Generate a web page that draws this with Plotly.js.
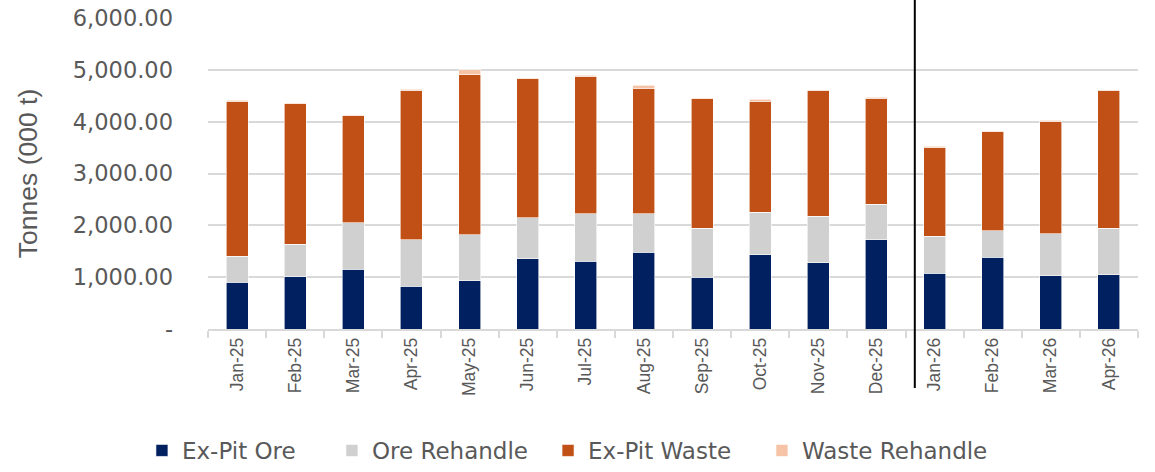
<!DOCTYPE html>
<html>
<head>
<meta charset="utf-8">
<script src="https://cdn.plot.ly/plotly-3.0.1.min.js"></script>
<style>html,body{margin:0;padding:0;background:#fff;}#chart{width:1155px;height:472px;}</style>
</head>
<body>
<div id="chart"></div>
<script>
const months = ["Jan-25","Feb-25","Mar-25","Apr-25","May-25","Jun-25","Jul-25","Aug-25","Sep-25","Oct-25","Nov-25","Dec-25","Jan-26","Feb-26","Mar-26","Apr-26"];
const exPitOre      = [905, 1007, 1155, 828, 930, 1360, 1309, 1483, 1001, 1437, 1283, 1720, 1078, 1386, 1026, 1051];
const oreRehandle   = [500, 630, 892, 892, 886, 789, 917, 743, 944, 816, 893, 687, 713, 507, 815, 894];
const exPitWaste    = [2990, 2708, 2066, 2882, 3087, 2677, 2652, 2421, 2496, 2143, 2426, 2041, 1714, 1912, 2170, 2657];
const wasteRehandle = [20, 20, 20, 20, 96, 20, 15, 51, 25, 39, 13, 19, 19, 19, 19, 13];
const yTickVals = [0, 1000, 2000, 3000, 4000, 5000, 6000];
const yTickText = ["-", "1,000.00", "2,000.00", "3,000.00", "4,000.00", "5,000.00", "6,000.00"];
const yTitle = 'Tonnes (000 t)';

const mk = (name, y, color, legendId) => ({
  type: 'bar', name: name, x: months, y: y, legend: legendId,
  marker: {color: color, line: {color: '#ffffff', width: 0.6}},
  hoverinfo: 'x+y+name'
});

const data = [
  mk('Ex-Pit Ore', exPitOre, '#002060', 'legend'),
  mk('Ore Rehandle', oreRehandle, '#D0D0D0', 'legend2'),
  mk('Ex-Pit Waste', exPitWaste, '#C05015', 'legend3'),
  mk('Waste Rehandle', wasteRehandle, '#F6C3A6', 'legend4')
];

const legendBase = (x) => ({
  orientation: 'h', xref: 'container', yref: 'container',
  x: x, xanchor: 'left', y: -0.015, yanchor: 'bottom',
  font: {size: 23, color: '#595959', family: 'DejaVu Sans, sans-serif'},
  itemwidth: 30, bgcolor: 'rgba(0,0,0,0)', borderwidth: 0
});

const layout = {
  width: 1155, height: 472,
  barmode: 'stack', bargap: 0.62,
  margin: {l: 208, r: 17, t: 18, b: 143},
  paper_bgcolor: '#fff', plot_bgcolor: '#fff',
  font: {family: 'Liberation Sans, Arial, sans-serif', color: '#595959'},
  showlegend: true,
  legend: legendBase(0.1229),
  legend2: legendBase(0.2874),
  legend3: legendBase(0.4745),
  legend4: legendBase(0.6597),
  xaxis: {
    type: 'category', tickangle: -90,
    tickfont: {size: 17.5, color: '#595959'},
    showline: true, linecolor: '#D9D9D9', linewidth: 1.5,
    ticks: 'outside', tickson: 'boundaries', ticklen: 7, tickcolor: '#D9D9D9', tickwidth: 1.5,
    showgrid: false, fixedrange: true
  },
  yaxis: {
    range: [0, 6000], tickvals: yTickVals, ticktext: yTickText,
    tickfont: {size: 22.5, color: '#595959', family: 'DejaVu Sans, sans-serif'},
    showgrid: true, gridcolor: '#D9D9D9', gridwidth: 1.5,
    zeroline: false, showline: false, ticks: '', ticklabelstandoff: 34,
    fixedrange: true
  },
  annotations: [{
    text: yTitle, xref: 'paper', yref: 'paper', x: -0.1935, y: 0.498,
    xanchor: 'center', yanchor: 'middle', textangle: -90, showarrow: false,
    font: {size: 26.5, color: '#595959', family: 'Liberation Sans, Arial, sans-serif'}
  }],
  shapes: [{
    type: 'line', xref: 'x', yref: 'paper', x0: 11.66, x1: 11.66, y0: -0.19, y1: 1.06,
    line: {color: '#000000', width: 2}
  }]
};

Plotly.newPlot('chart', data, layout, {displayModeBar: false, responsive: false});
</script>
</body>
</html>
